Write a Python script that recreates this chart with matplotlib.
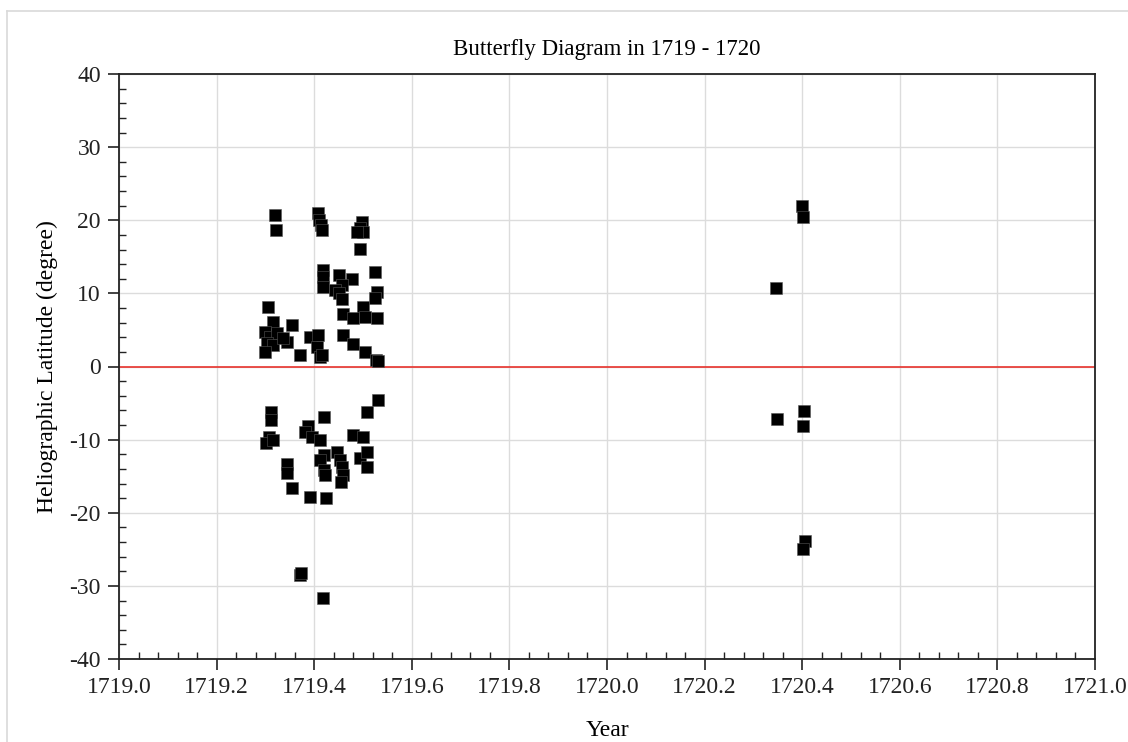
import matplotlib
matplotlib.use('Agg')
import matplotlib.pyplot as plt
from matplotlib.lines import Line2D
from matplotlib.ticker import MultipleLocator, FormatStrFormatter

# sunspot positions (year, latitude in degrees)
year = [
    1719.320, 1719.322, 1719.305, 1719.316, 1719.355, 1719.299, 1719.309,
    1719.324, 1719.344, 1719.303, 1719.316, 1719.299, 1719.336, 1719.371,
    1719.391, 1719.408, 1719.406, 1719.412, 1719.408, 1719.410, 1719.414,
    1719.416, 1719.498, 1719.494, 1719.500, 1719.488, 1719.494, 1719.418,
    1719.418, 1719.418, 1719.451, 1719.477, 1719.457, 1719.443, 1719.451,
    1719.457, 1719.525, 1719.529, 1719.525, 1719.500, 1719.504, 1719.459,
    1719.480, 1719.529, 1719.416, 1719.459, 1719.480, 1719.504, 1719.527,
    1719.531,
    1719.531, 1719.311, 1719.311, 1719.307, 1719.301, 1719.316, 1719.420,
    1719.387, 1719.381, 1719.395, 1719.412, 1719.480, 1719.500, 1719.508,
    1719.420, 1719.412, 1719.420, 1719.422, 1719.447, 1719.453, 1719.457,
    1719.459, 1719.455, 1719.494, 1719.508, 1719.508, 1719.344, 1719.344,
    1719.355, 1719.391, 1719.424, 1719.371, 1719.373, 1719.418,
    1720.399, 1720.402, 1720.346, 1720.348, 1720.404, 1720.402, 1720.406,
    1720.402,
]
latitude = [
    20.7, 18.6, 8.1, 6.1, 5.7, 4.7, 4.1,
    4.6, 3.4, 3.2, 3.0, 2.0, 3.9, 1.6,
    4.0, 4.3, 2.7, 1.3, 21.0, 20.0, 19.4,
    18.6, 19.8, 19.0, 18.4, 18.4, 16.1, 13.2,
    12.3, 10.9, 12.5, 12.0, 11.2, 10.5, 10.1,
    9.2, 12.9, 10.2, 9.4, 8.2, 6.8, 7.2,
    6.6, 6.6, 1.6, 4.3, 3.1, 2.0, 0.9,
    0.7,
    -4.55, -6.2, -7.3, -9.7, -10.4, -10.0, -6.9,
    -8.2, -9.0, -9.7, -10.0, -9.3, -9.6, -6.2,
    -12.1, -12.8, -14.1, -14.8, -11.7, -12.8, -13.7,
    -14.8, -15.8, -12.5, -11.7, -13.7, -13.4, -14.5,
    -16.6, -17.8, -18.0, -28.5, -28.2, -31.6,
    21.9, 20.4, 10.7, -7.2, -6.1, -8.1, -23.9,
    -25.0,
]

plt.rcParams['font.family'] = ['Liberation Serif', 'DejaVu Serif']
plt.rcParams['axes.unicode_minus'] = False

fig = plt.figure(figsize=(11.28, 7.42), dpi=100)
ax = fig.add_axes([119 / 1128, 1 - 659 / 742, 976 / 1128, 585 / 742])

# light grey frame round the whole chart
fig.add_artist(Line2D([7 / 1128, 7 / 1128], [0, 1 - 11 / 742],
                      transform=fig.transFigure, color='#d9d9d9', lw=1.2))
fig.add_artist(Line2D([7 / 1128, 1], [1 - 11 / 742, 1 - 11 / 742],
                      transform=fig.transFigure, color='#d9d9d9', lw=1.2))

ax.scatter(year, latitude, marker='s', s=72, color='black',
           edgecolors='#555555', linewidths=0.4, zorder=3)
ax.axhline(0, color='#e8322c', lw=1.2, zorder=2)

ax.set_xlim(1719.0, 1721.0)
ax.set_ylim(-40, 40)
ax.xaxis.set_major_locator(MultipleLocator(0.2))
ax.xaxis.set_minor_locator(MultipleLocator(0.04))
ax.yaxis.set_major_locator(MultipleLocator(10))
ax.yaxis.set_minor_locator(MultipleLocator(2))
ax.xaxis.set_major_formatter(FormatStrFormatter('%.1f'))

ax.grid(True, which='major', color='#dcdcdc', lw=1.0, zorder=0)
ax.set_axisbelow(True)

ax.tick_params(which='major', direction='out', length=8, width=1.2,
               labelsize=17, colors='#222222', pad=5)
ax.tick_params(which='minor', direction='in', length=5, width=1.0,
               colors='#222222')
for side in ['left', 'bottom', 'top', 'right']:
    ax.spines[side].set_color('#222222')
    ax.spines[side].set_linewidth(1.3)

ax.set_title('Butterfly Diagram in 1719 - 1720', fontsize=16.5, pad=14)
ax.set_xlabel('Year', fontsize=17, labelpad=16)
ax.set_ylabel('Heliographic Latitude (degree)', fontsize=17, labelpad=8)

fig.savefig('out.png', dpi=100)
